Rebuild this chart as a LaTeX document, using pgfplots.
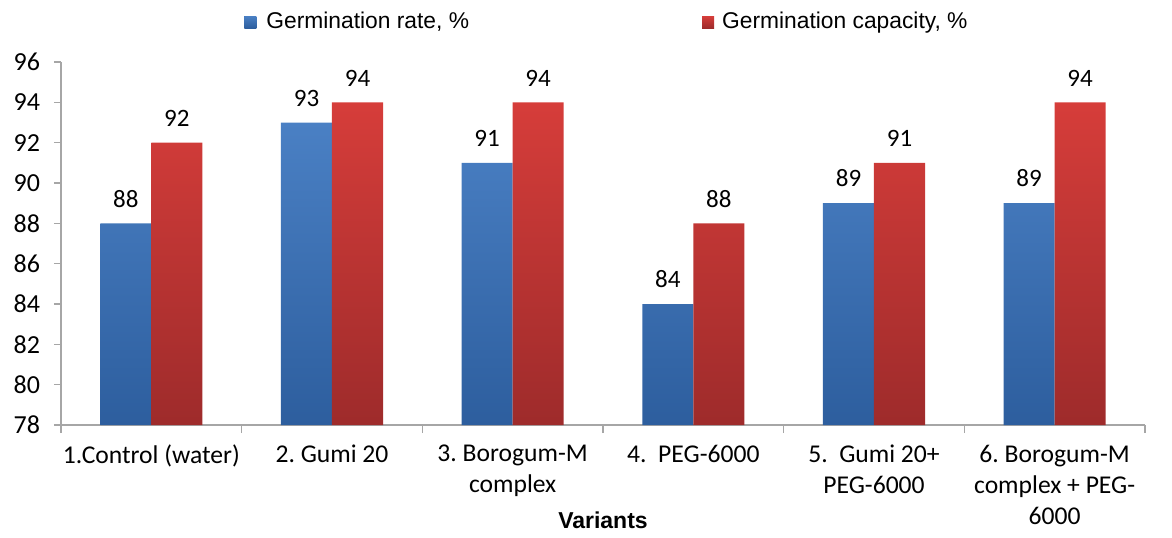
\documentclass[border=0pt]{standalone}
\usepackage{pgfplots}
\pgfplotsset{compat=1.18}
\usepackage{fontspec}
\setmainfont{Carlito}
\newfontfamily\arial{Liberation Sans}
\definecolor{btop}{HTML}{4A80C4}
\definecolor{bbot}{HTML}{2D5E9E}
\definecolor{rtop}{HTML}{D63D3A}
\definecolor{rbot}{HTML}{9E2B2B}
\definecolor{bleg}{HTML}{3C72B8}
\definecolor{rleg}{HTML}{C93430}
\definecolor{axgray}{HTML}{A6A6A6}
\frenchspacing
\begin{document}
\begin{tikzpicture}
\path[use as bounding box] (-30.5pt,-56pt) rectangle (555.5pt,212.5pt);
\begin{axis}[
  scale only axis,
  width=542pt, height=181.5pt,
  ybar=0pt, bar width=25.5pt,
  xmin=-0.5, xmax=5.5,
  ymin=78, ymax=96, ytick={78,80,...,96},
  xtick={0,...,5},
  xticklabels={1.Control (water),2. Gumi 20,{3. Borogum-M\\complex},{4.\ \ PEG-6000},{5.\ \ Gumi 20+\\PEG-6000},{6. Borogum-M\\complex + PEG-\\6000}},
  xticklabel style={align=flush center, font=\fontsize{12.8}{15.5}\selectfont, text width=100pt, yshift=-3pt},
  minor xtick={-0.5,0.5,...,5.5},
  axis x line*=bottom, axis y line*=left,
  axis line style={axgray, line width=0.6pt},
  tick align=outside,
  major tick length=3.5pt,
  x tick style={draw=none},
  minor x tick style={draw=axgray, line width=0.6pt},
  minor tick length=4pt,
  y tick style={axgray, line width=0.6pt},
  yticklabel style={font=\fontsize{13}{14}\selectfont, xshift=-3.5pt},
  /pgf/number format/assume math mode=true,
  xlabel={\arial\bfseries Variants},
  xlabel style={font=\fontsize{11.5}{13}\selectfont, at={(axis description cs:0.5,-0.262)}, anchor=center},
  nodes near coords,
  every node near coord/.append style={font=\fontsize{12.5}{14}\selectfont, text=black, yshift=4.5pt},
  legend style={at={(0.5046,1.11)}, anchor=center, draw=none, fill=none,
    legend columns=2, font=\arial\fontsize{11.4}{13}\selectfont,
    /tikz/every even column/.append style={column sep=114.5pt}},
  legend cell align=left,
  clip=false,
]
\addplot[draw=none, top color=btop, bottom color=bbot,
  legend image code/.code={\fill[bleg] (0pt,-3pt) rectangle (6pt,3pt); \path (9pt,0pt);}]
  coordinates {(0,88) (1,93) (2,91) (3,84) (4,89) (5,89)};
\addplot[draw=none, top color=rtop, bottom color=rbot,
  legend image code/.code={\fill[rleg] (0pt,-3pt) rectangle (6pt,3pt); \path (8pt,0pt);}]
  coordinates {(0,92) (1,94) (2,94) (3,88) (4,91) (5,94)};
\legend{Germination rate{,} \%, Germination capacity{,} \%}
\end{axis}
\end{tikzpicture}
\end{document}
